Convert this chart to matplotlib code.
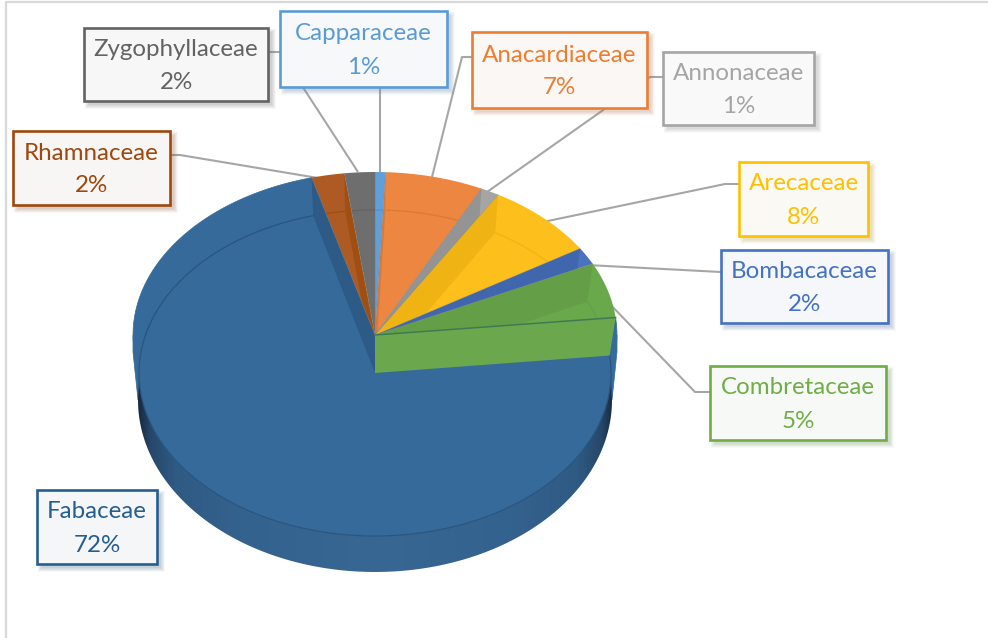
import numpy as np
import matplotlib
matplotlib.use("Agg")
import matplotlib.pyplot as plt
from matplotlib.patches import Polygon, Rectangle
from matplotlib.colors import to_rgb

families = ["Capparaceae", "Anacardiaceae", "Annonaceae", "Arecaceae", "Bombacaceae",
            "Combretaceae", "Fabaceae", "Rhamnaceae", "Zygophyllaceae"]
shares = [0.7, 6.55, 1.25, 7.6, 1.7, 5.49, 72.49, 2.2, 2.02]
slice_colors = ["#5f9fdc", "#ec8640", "#a5a5a5", "#fdbf1c", "#4b73bd",
                "#6aa84c", "#356a9a", "#ad5a24", "#6e6e6e"]
wall_colors = ["#5590c8", "#d97a38", "#949494", "#efb414", "#4067ae",
               "#649f48", "#2d5a86", "#a04f10", "#636363"]
text_colors = ["#5b9bd5", "#ed7d31", "#a5a5a5", "#ffc000", "#4472c4",
               "#70ad47", "#255e91", "#9e480e", "#636363"]

# label layout, pixels: box (x0, y0, x1, y1) and leader path
boxes = {"Capparaceae": (280, 11, 447, 87), "Anacardiaceae": (472, 32, 647, 108),
         "Annonaceae": (663, 52, 814, 125), "Arecaceae": (739, 162, 868, 236),
         "Bombacaceae": (721, 250, 888, 323), "Combretaceae": (710, 366, 886, 440),
         "Fabaceae": (37, 490, 157, 564), "Rhamnaceae": (13, 131, 170, 205),
         "Zygophyllaceae": (84, 28, 268, 101)}
leaders = {"Capparaceae": [(380, 87), (380, 172)],
           "Anacardiaceae": [(472, 57), (462, 57), (432, 177)],
           "Annonaceae": [(663, 77), (650, 77), (487, 192)],
           "Arecaceae": [(739, 184), (725, 184), (543, 222)],
           "Bombacaceae": [(721, 272), (587, 265)],
           "Combretaceae": [(710, 392), (695, 392), (603, 297)],
           "Rhamnaceae": [(170, 155), (180, 155), (318, 178)],
           "Zygophyllaceae": [(268, 52), (280, 52), (358, 172)]}

plt.rcParams["font.family"] = ["Lato", "DejaVu Sans"]
fig = plt.figure(figsize=(9.88, 6.38), dpi=100, facecolor="white")
ax = fig.add_axes([0, 0, 1, 1])
ax.set_xlim(0, 988); ax.set_ylim(638, 0); ax.axis("off")

ax.plot([6, 6, 988], [638, 1.5, 1.5], color="#d9d9d9", lw=1.6, zorder=0)

CX, CY_TOP, CY_IN, CY_BOT = 375, 335, 373, 400
RX, RX_IN, RX_BOT = 242, 236, 237
RY, RY_BOT = 163, 172


def arc(cy, rx, a0, a1, n=120, ry=RY):
    t = np.radians(np.linspace(a0, a1, n))
    return np.column_stack([CX + rx * np.sin(t), cy - ry * np.cos(t)])


def wedge(cy, rx, a0, a1):
    return np.vstack([[CX, cy], arc(cy, rx, a0, a1)])


def point(cy, rx, a, ry=RY):
    return arc(cy, rx, a, a, 1, ry)[0]


total = sum(shares)
edges = np.concatenate([[0], np.cumsum(shares)]) / total * 360

for name, path in leaders.items():
    xs, ys = zip(*path)
    ax.plot(xs, ys, color="#a6a6a6", lw=1.5, zorder=1, solid_capstyle="butt")

# Fabaceae body
i_fab = families.index("Fabaceae")
f0, f1 = edges[i_fab], edges[i_fab + 1]
fab_c = slice_colors[i_fab]
ax.add_patch(Polygon(wedge(CY_TOP, RX, f0, f1), fc=fab_c, ec=fab_c, lw=0.5, zorder=2))
ax.add_patch(Polygon(wedge(CY_IN, RX_IN, f0, f1), fc=fab_c, ec=fab_c, lw=0.5, zorder=2))
for a, s in ((270, -1), (90, 1)):
    ax.add_patch(Polygon([point(CY_TOP, RX, a), (CX + s * RX, 352), point(CY_BOT, RX_BOT, a, RY_BOT),
                          point(CY_IN, RX_IN, a)], fc=fab_c, ec=fab_c, lw=0.5, zorder=2))

# side wall: smooth horizontal gradient clipped to the rim band
wall_poly = Polygon(np.vstack([arc(CY_IN, RX_IN, 90, 270), arc(CY_BOT, RX_BOT, 270, 90, ry=RY_BOT)]),
                    fc="none", ec="none", zorder=3)
ax.add_patch(wall_poly)
stop_x = [138, 150, 175, 240, 375, 510, 575, 600, 612]
stop_c = np.array([to_rgb(c) for c in ["#16293f", "#27476a", "#2f5a84", "#34628e", "#386794",
                                       "#34628e", "#2f5a84", "#27476a", "#16293f"]])
xs = np.arange(130, 620)
grad = np.stack([np.interp(xs, stop_x, stop_c[:, k]) for k in range(3)], axis=-1)[None, :, :]
im = ax.imshow(grad, extent=(130, 620, 638, 0), aspect="auto", zorder=3, interpolation="bilinear")
im.set_clip_path(wall_poly)
ax.set_xlim(0, 988); ax.set_ylim(638, 0)
ax.plot(*arc(CY_IN, RX_IN, f0, f1, 240).T, color="#2a5580", lw=0.9, zorder=4)

# slices
for i, name in enumerate(families):
    a0, a1 = edges[i], edges[i + 1]
    top = Polygon(wedge(CY_TOP, RX, a0, a1), fc=slice_colors[i] if i != i_fab else "none", ec="none", zorder=5)
    ax.add_patch(top)
    wall_a = a0 if (a0 + a1) / 2 < 180 else a1
    wall = Polygon([(CX, CY_TOP), point(CY_TOP, RX, wall_a), point(CY_IN, RX_IN, wall_a), (CX, CY_IN)],
                   fc=wall_colors[i], ec="none", zorder=6)
    ax.add_patch(wall)
    if i != i_fab:
        wall.set_clip_path(top)
        ln, = ax.plot(*arc(CY_IN, RX_IN, a0, a1, 30).T, color=wall_colors[i], lw=0.9, zorder=6)
        ln.set_clip_path(top)
        ax.plot(*np.array([(CX, CY_TOP), point(CY_TOP, RX, a0)]).T, color="#808080", lw=0.5, alpha=0.6, zorder=7)

# Combretaceae cut face
i_c = families.index("Combretaceae")
end = edges[i_c + 1]
ax.add_patch(Polygon([(CX, CY_TOP), point(CY_TOP, RX, end), point(CY_IN, RX_IN, end), (CX, CY_IN)],
                     fc="#6ba84d", ec="none", zorder=8))
ax.plot(*np.array([(CX, CY_TOP), point(CY_TOP, RX, end)]).T, color="#3f7a55", lw=1.1, zorder=9)

# data labels
for i, name in enumerate(families):
    x0, y0, x1, y1 = boxes[name]
    base = np.array(to_rgb(text_colors[i]))
    for k in range(1, 10):
        ax.add_patch(Rectangle((x0 + 4 - k / 2 + 1, y0 + 4 - k / 2 + 1), x1 - x0 + k - 2, y1 - y0 + k - 2,
                               fc=0.5 * base + 0.25, ec="none", alpha=0.04, zorder=10))
    ax.add_patch(Rectangle((x0, y0), x1 - x0, y1 - y0, fc=0.03 * base + 0.97 * 0.985,
                           ec=text_colors[i], lw=1.9, zorder=11))
    xm, ym = (x0 + x1) / 2, (y0 + y1) / 2
    ax.text(xm, ym - 15, name, color=text_colors[i], fontsize=17.4, ha="center", va="center", zorder=12)
    ax.text(xm, ym + 18, f"{shares[i]:.0f}%", color=text_colors[i], fontsize=17.4, ha="center", va="center", zorder=12)

fig.savefig("out.png", dpi=100)
